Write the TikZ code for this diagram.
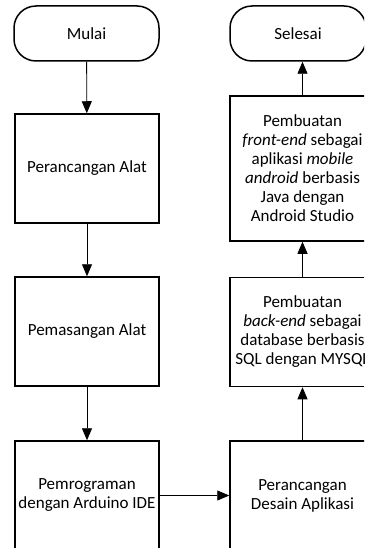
\documentclass[tikz,border=0pt]{standalone}
\usepackage{fontspec}
\setmainfont{Carlito}
\usetikzlibrary{arrows.meta}
\begin{document}
\begin{tikzpicture}[x=1pt,y=-1pt,
  box/.style={draw,line width=1.5pt,minimum width=144pt,minimum height=109pt,inner sep=0pt,align=center,font=\fontsize{17}{19}\selectfont},
  term/.style={draw,line width=1.5pt,rounded corners=22pt,minimum height=55pt,inner sep=0pt,align=center,font=\fontsize{17}{19}\selectfont},
  arr/.style={line width=0.8pt,-{Triangle[width=10pt,length=12pt]}}]
\useasboundingbox (0,0) rectangle (364,548);
\clip (0,0) rectangle (364,548);
\node[term,minimum width=145pt] (mulai) at (86.5,33.5) {Mulai};
\node[box] (b1) at (87,168.5) {Perancangan Alat};
\node[box] (b2) at (87,331.5) {Pemasangan Alat};
\node[box] (b3) at (87,495.5) {Pemrograman\\dengan Arduino IDE};
\node[box,minimum width=145pt] (d) at (302.5,495.5) {Perancangan\\Desain Aplikasi};
\node[box,minimum width=145pt] (be) at (302.5,332) {Pembuatan\\\textit{back-end} sebagai\\database berbasis\\SQL dengan MYSQL};
\node[box,minimum width=145pt,minimum height=145pt] (fe) at (302.5,168.5) {Pembuatan\\\textit{front-end} sebagai\\aplikasi \textit{mobile}\\\textit{android} berbasis\\Java dengan\\Android Studio};
\node[term,minimum width=136pt] (sel) at (298,33.5) {Selesai};
\draw[arr] (mulai) -- (b1);
\draw[arr] (b1) -- (b2);
\draw[arr] (b2) -- (b3);
\draw[arr] (b3) -- (d);
\draw[arr] (d) -- (be);
\draw[arr] (be) -- (fe);
\draw[arr] (fe.north) -- (fe.north |- sel.south);
\end{tikzpicture}
\end{document}
